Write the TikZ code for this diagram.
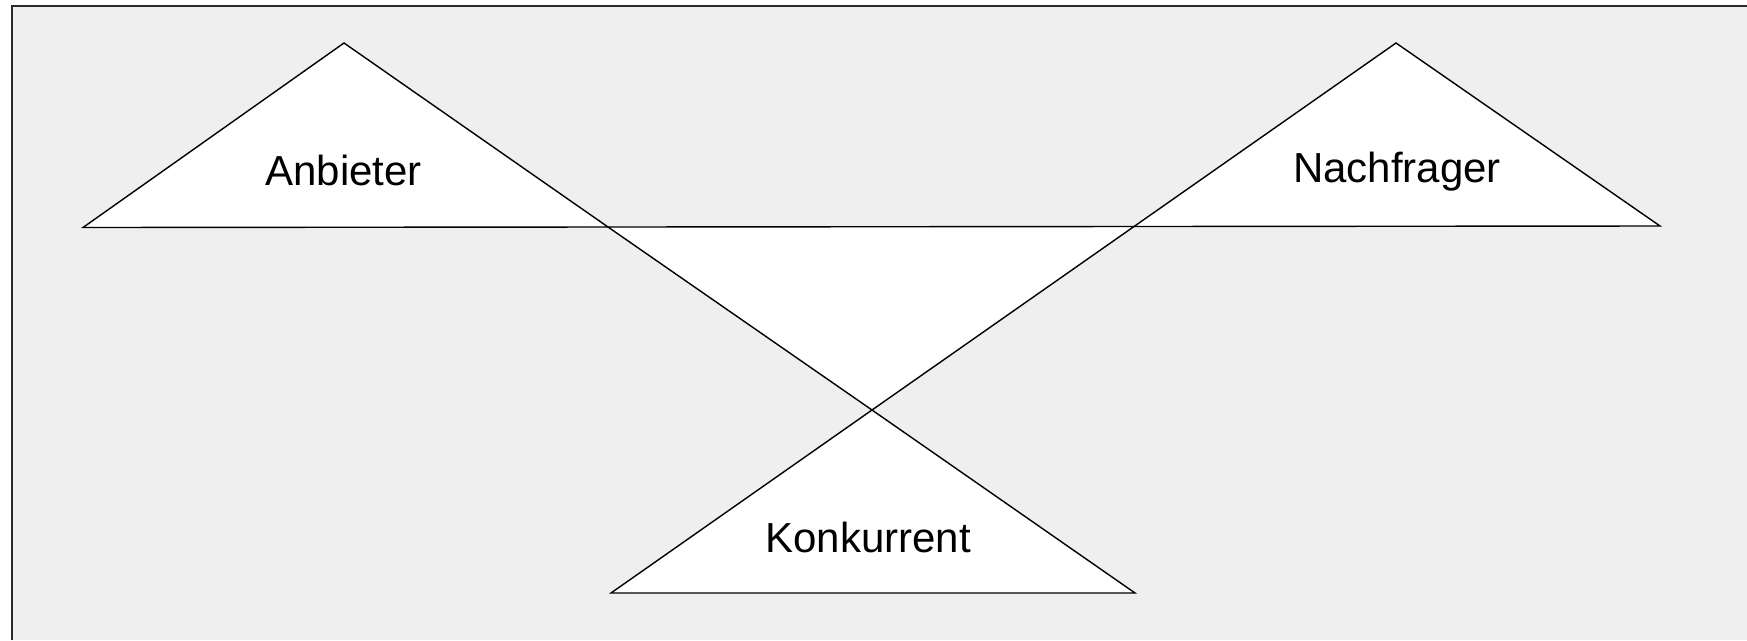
\documentclass[tikz,border=0pt]{standalone}
\usepackage{fontspec}
\setmainfont{Liberation Sans}
\usetikzlibrary{positioning}
\definecolor{panelgray}{HTML}{EFEFEF}
\definecolor{framegray}{HTML}{2A2A2A}
\tikzset{
    panel/.style = {
        fill=panelgray,
    },
    frameline/.style = {
        draw=framegray,
        line width=0.95pt,
    },
    wedge/.style = {
        fill=white,
        draw=black,
        line width=0.8pt,
        line join=miter,
    },
    rolename/.style = {
        anchor=base,
        inner sep=0pt,
        font=\fontsize{23.9}{28}\selectfont,
    },
}

\begin{document}
\begin{tikzpicture}[x=0.02cm, y=-0.02cm]
        \useasboundingbox (0,0) rectangle (1747,640);
        \fill [panel] (11.7,5.7) rectangle (1747,640);
        \draw [frameline] (11.7,640) -- (11.7,5.7) -- (1747,5.7);

        \coordinate (apexA) at (344,43);
        \coordinate (leftA) at (83,227.5);
        \coordinate (apexN) at (1396,43);
        \coordinate (rightN) at (1660,226);
        \coordinate (midL) at (608,227);
        \coordinate (midR) at (1134,226.5);
        \coordinate (cross) at (872,410);
        \coordinate (leftK) at (611,593);
        \coordinate (rightK) at (1135,593);

        \draw [wedge] (apexA) -- (leftA) -- (midL) -- cycle;
        \draw [wedge] (apexN) -- (midR) -- (rightN) -- cycle;
        \draw [wedge] (midL) -- (midR) -- (cross) -- cycle;
        \draw [wedge] (cross) -- (leftK) -- (rightK) -- cycle;

        \node (anbieter) [rolename] at (343.5,185) {Anbieter};
        \node (nachfrager) [rolename] at (1397,182) {Nachfrager};
        \node (konkurrent) [rolename] at (868,552.7) {Konkurrent};

    \end{tikzpicture}
\end{document}
